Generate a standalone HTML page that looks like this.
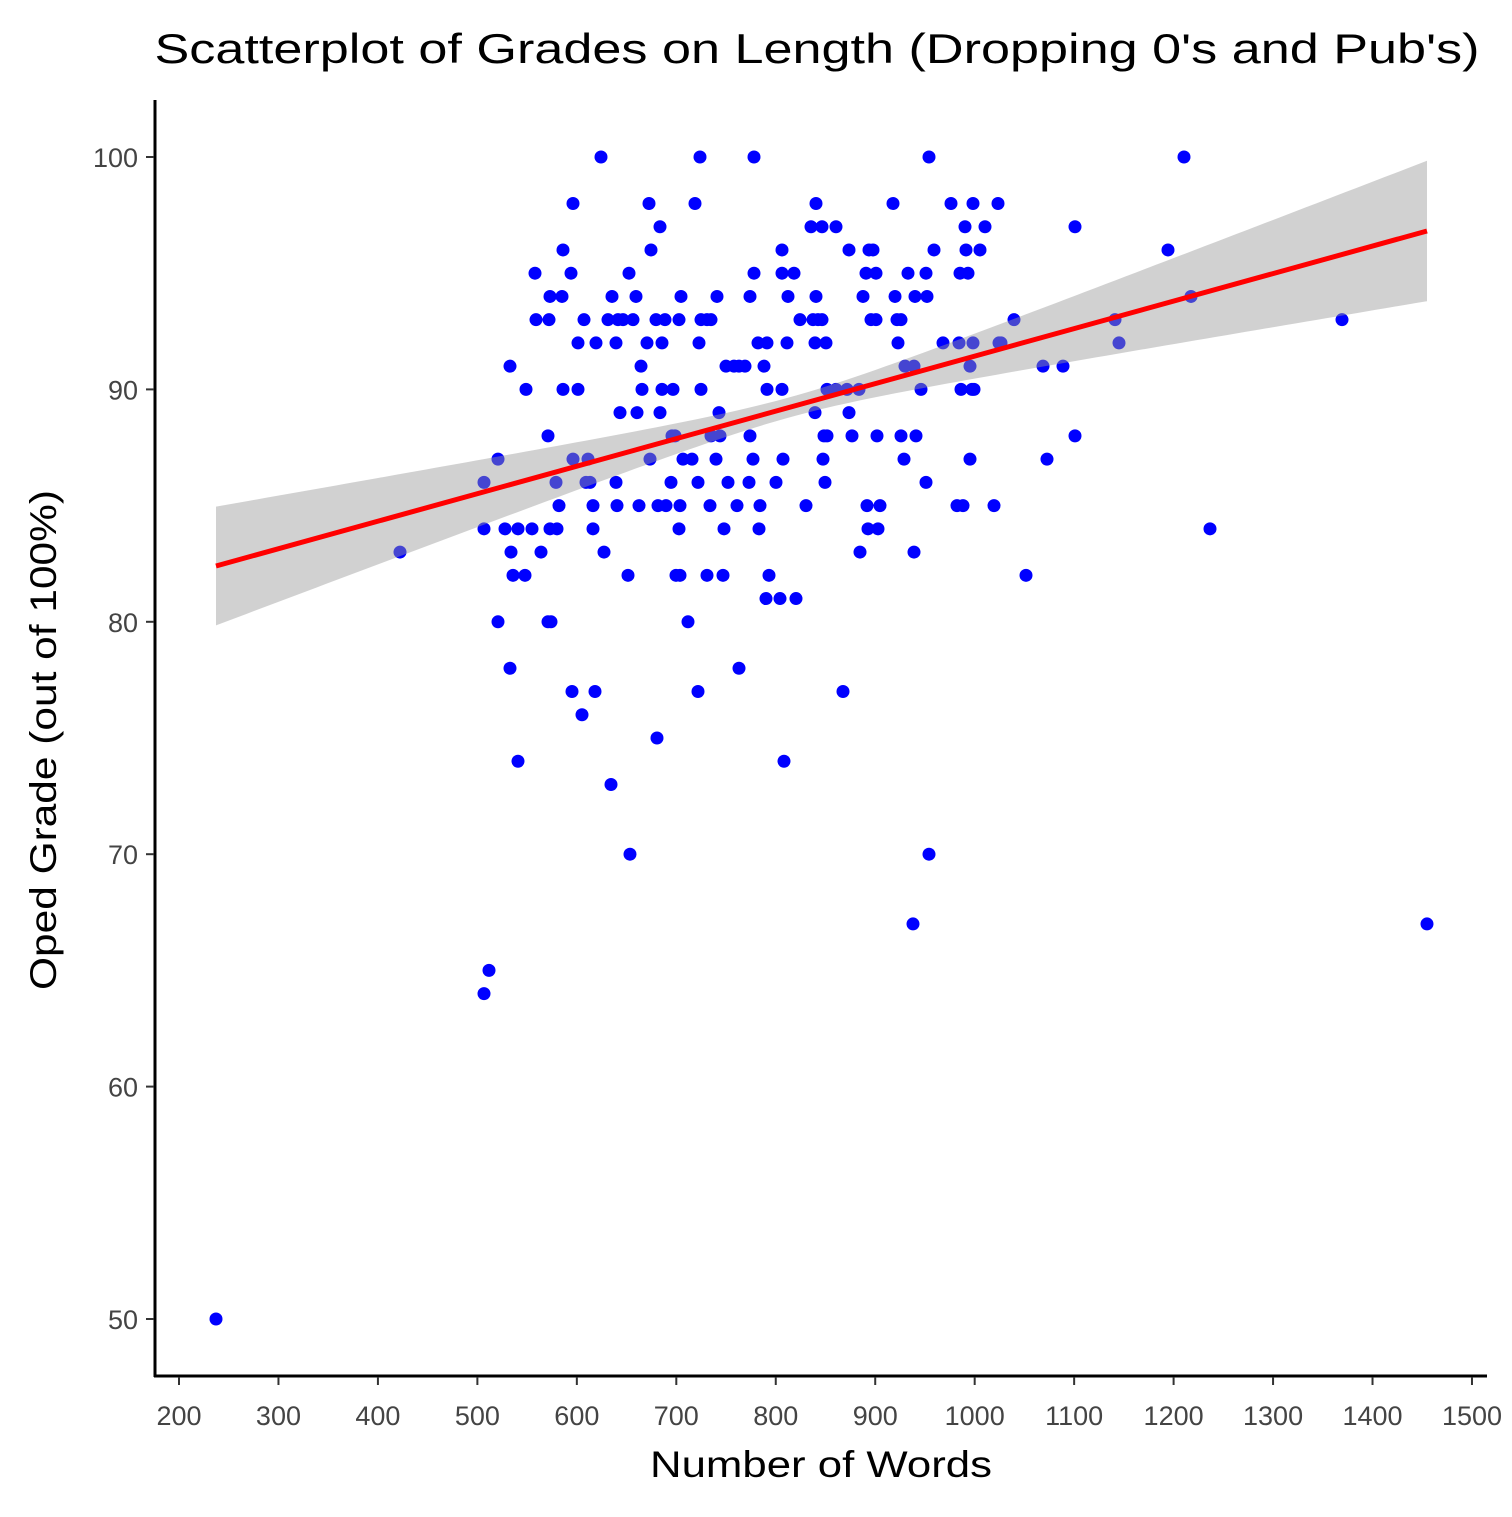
<!DOCTYPE html><html><head><meta charset="utf-8"><style>
body{margin:0;background:#fff;}
svg text{font-family:"Liberation Sans",sans-serif;}
</style></head><body>
<svg id="s" width="1512" height="1512" xmlns="http://www.w3.org/2000/svg">
<rect width="1512" height="1512" fill="#fff"/>
<g id="pts"></g>
<path id="band" fill="#9a9a9a" fill-opacity="0.45"/>
<line x1="216" y1="566" x2="1427" y2="231" stroke="#ff0000" stroke-width="5"/>
<line x1="155" y1="100" x2="155" y2="1377" stroke="#000" stroke-width="3"/>
<line x1="154" y1="1376" x2="1487" y2="1376" stroke="#000" stroke-width="3"/>
<g id="ticks"></g>
<text x="817" y="63" font-size="42" text-anchor="middle" textLength="1325" lengthAdjust="spacingAndGlyphs">Scatterplot of Grades on Length (Dropping 0's and Pub's)</text>
<text x="821" y="1477" font-size="37" text-anchor="middle" textLength="342" lengthAdjust="spacingAndGlyphs">Number of Words</text>
<text transform="translate(56,740) rotate(-90)" font-size="37" text-anchor="middle" textLength="500" lengthAdjust="spacingAndGlyphs">Oped Grade (out of 100%)</text>
</svg>
<script>
var NS="http://www.w3.org/2000/svg";
function Y(g){return 157+(100-g)*23.24;}
var rows={100:[601,700,754,929,1184],98:[573,649,695,816,893,951,973,998],97:[660,811,822,836,965,985,1075],
96:[563,651,782,849,869,873,934,966,980,1168],95:[535,571,629,754,782,794,866,876,926,908,960,968],
94:[550,562,612,636,681,717,750,788,816,863,895,915,927,1191],
93:[536,549,584,608,618,623,633,656,665,679,701,707,711,800,813,818,822,871,876,897,901,1014,1115,1342],
92:[578,596,616,647,662,699,758,767,787,815,826,898,943,959,973,999,1001,1119],
91:[510,641,726,734,739,745,764,905,914,970,1043,1063],
90:[526,563,578,642,662,673,701,767,782,827,836,847,859,921,961,972,974],
89:[620,637,660,719,815,849],88:[548,672,675,711,720,750,824,827,852,877,901,916,1075],
87:[498,573,588,650,683,692,716,753,783,823,904,970,1047],86:[484,556,586,590,616,671,698,728,749,776,825,926],
85:[559,593,617,639,658,666,680,710,737,760,806,867,880,957,963,994],
84:[484,505,518,532,550,557,593,679,724,759,868,878,1210],83:[400,511,541,604,860,914],
82:[513,525,628,676,680,707,723,769,1026],81:[766,780,796],80:[498,548,551,688],78:[510,739],
77:[572,595,698,843],76:[582],75:[657],74:[518,784],73:[611],70:[630,929],67:[913,1427],65:[489],64:[484],50:[216]};
var g=document.getElementById("pts");
for(var k in rows){rows[k].forEach(function(x){var c=document.createElementNS(NS,"circle");c.setAttribute("cx",x);c.setAttribute("cy",Y(+k));c.setAttribute("r",6.5);c.setAttribute("fill","#0000ff");g.appendChild(c);});}
function L(x){return 566+(x-216)*(231-566)/(1427-216);}
function H(x){return Math.sqrt(100+0.0104*(x-790)*(x-790)+(x>790?0.0015*(x-790)*(x-790):0));}
var up=[],lo=[];for(var x=216;x<=1427;x+=10){var xx=Math.min(x,1427);up.push(xx+","+(L(xx)-H(xx)));lo.unshift(xx+","+(L(xx)+H(xx)));}
up.push("1427,"+(L(1427)-H(1427)));lo.unshift("1427,"+(L(1427)+H(1427)));
document.getElementById("band").setAttribute("d","M"+up.join(" L")+" L"+lo.join(" L")+"Z");
var t=document.getElementById("ticks"),h="";
for(var w=200;w<=1500;w+=100){var px=179+(w-200)*0.9946;h+='<line x1="'+px+'" y1="1377" x2="'+px+'" y2="1385" stroke="#333" stroke-width="2"/><text x="'+px+'" y="1425" font-size="27" fill="#444" text-anchor="middle">'+w+'</text>';}
for(var v=50;v<=100;v+=10){var py=Y(v);h+='<line x1="146" y1="'+py+'" x2="154" y2="'+py+'" stroke="#333" stroke-width="2"/><text x="138" y="'+(py+10)+'" font-size="27" fill="#444" text-anchor="end">'+v+'</text>';}
t.innerHTML=h;
</script>
</body></html>
